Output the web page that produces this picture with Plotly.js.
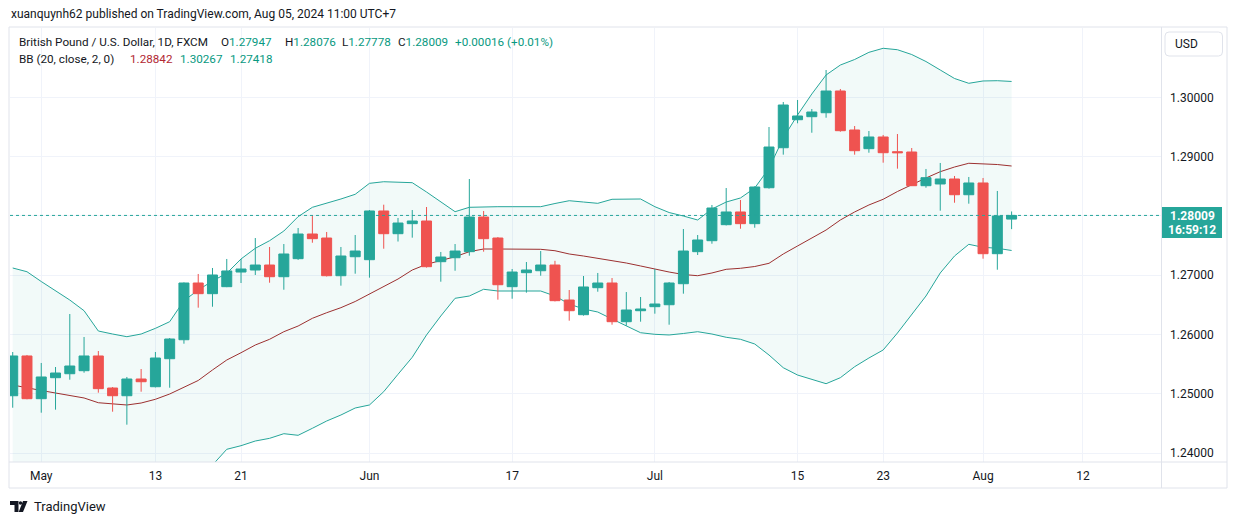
<!DOCTYPE html>
<html><head><meta charset="utf-8">
<script src="https://cdn.plot.ly/plotly-3.0.1.min.js"></script>
<style>html,body{margin:0;padding:0;background:#fff;}#chart{width:1237px;height:524px;}</style>
</head><body><div id="chart"></div>
<script>
const dates = ['2024-04-29','2024-04-30','2024-05-01','2024-05-02','2024-05-03','2024-05-06','2024-05-07','2024-05-08','2024-05-09','2024-05-10',
'2024-05-13','2024-05-14','2024-05-15','2024-05-16','2024-05-17','2024-05-20','2024-05-21','2024-05-22','2024-05-23','2024-05-24',
'2024-05-27','2024-05-28','2024-05-29','2024-05-30','2024-05-31','2024-06-03','2024-06-04','2024-06-05','2024-06-06','2024-06-07',
'2024-06-10','2024-06-11','2024-06-12','2024-06-13','2024-06-14','2024-06-17','2024-06-18','2024-06-19','2024-06-20','2024-06-21',
'2024-06-24','2024-06-25','2024-06-26','2024-06-27','2024-06-28','2024-07-01','2024-07-02','2024-07-03','2024-07-04','2024-07-05',
'2024-07-08','2024-07-09','2024-07-10','2024-07-11','2024-07-12','2024-07-15','2024-07-16','2024-07-17','2024-07-18','2024-07-19',
'2024-07-22','2024-07-23','2024-07-24','2024-07-25','2024-07-26','2024-07-29','2024-07-30','2024-07-31','2024-08-01','2024-08-02','2024-08-05'];

const openP = [1.24970,1.25640,1.24920,1.25274,1.25341,1.25392,1.25640,1.25100,1.24970,1.25252,
1.25122,1.25594,1.25914,1.26870,1.26690,1.26808,1.27055,1.27089,1.27173,1.26976,
1.27280,1.27696,1.27628,1.26993,1.27313,1.27263,1.28084,1.27701,1.27870,1.27915,
1.27229,1.27296,1.27398,1.27982,1.27628,1.26808,1.27044,1.27077,1.27173,1.26583,
1.26336,1.26791,1.26870,1.26218,1.26403,1.26471,1.26504,1.26858,1.27398,1.27583,
1.27853,1.28067,1.27870,1.28476,1.29150,1.29622,1.29673,1.29740,1.30106,1.29449,
1.29134,1.29331,1.29083,1.29078,1.28510,1.28539,1.28623,1.28358,1.28556,1.27364,1.27947];
const highP = [1.25707,1.25657,1.25522,1.25454,1.26347,1.25960,1.25724,1.25117,1.25286,1.25420,
1.25707,1.25943,1.26880,1.27022,1.27123,1.27275,1.27275,1.27628,1.27477,1.27527,
1.27797,1.28016,1.27730,1.27477,1.27679,1.28100,1.28190,1.27966,1.28100,1.28151,
1.27393,1.27527,1.28623,1.28084,1.27645,1.27106,1.27224,1.27409,1.27244,1.26752,
1.26988,1.27039,1.26954,1.26718,1.26634,1.27106,1.26887,1.27780,1.27679,1.28185,
1.28471,1.28269,1.28500,1.29499,1.29921,1.29955,1.29803,1.30460,1.30140,1.29516,
1.29432,1.29365,1.29381,1.29145,1.28792,1.28893,1.28674,1.28657,1.28640,1.28421,1.28076];
const lowP = [1.24768,1.24910,1.24684,1.24735,1.25240,1.25358,1.25021,1.24701,1.24482,1.25038,
1.25110,1.25105,1.25847,1.26454,1.26470,1.26800,1.26870,1.27005,1.26875,1.26757,
1.27260,1.27549,1.26980,1.26825,1.27027,1.26960,1.27448,1.27569,1.27634,1.27130,
1.26892,1.27077,1.27330,1.27398,1.26589,1.26605,1.26707,1.26993,1.26560,1.26235,
1.26320,1.26723,1.26167,1.26150,1.26218,1.26353,1.26167,1.26690,1.27342,1.27532,
1.27840,1.27785,1.27802,1.28460,1.29033,1.29562,1.29403,1.29656,1.29420,1.29033,
1.29066,1.28898,1.28797,1.28505,1.28476,1.28089,1.28223,1.28207,1.27280,1.27094,1.27778];
const closeP = [1.25640,1.24920,1.25286,1.25353,1.25471,1.25640,1.25089,1.24970,1.25252,1.25206,
1.25606,1.25926,1.26870,1.26690,1.27005,1.27073,1.27106,1.27173,1.26976,1.27359,
1.27696,1.27617,1.26993,1.27325,1.27409,1.28084,1.27701,1.27881,1.27915,1.27145,
1.27308,1.27409,1.27982,1.27617,1.26841,1.27055,1.27089,1.27173,1.26572,1.26403,
1.26803,1.26870,1.26218,1.26415,1.26432,1.26516,1.26870,1.27409,1.27595,1.28134,
1.28067,1.27870,1.28488,1.29162,1.29870,1.29685,1.29752,1.30106,1.29437,1.29100,
1.29331,1.29066,1.29066,1.28510,1.28645,1.28623,1.28358,1.28556,1.27364,1.27999,1.28009];

const bbUpper = [1.27123,1.27060,1.26895,1.26735,1.26583,1.26403,1.26061,1.26010,1.25965,1.26010,
1.26106,1.26218,1.26572,1.26752,1.26904,1.27034,1.27275,1.27455,1.27583,1.27746,
1.27988,1.28146,1.28213,1.28286,1.28365,1.28550,1.28577,1.28572,1.28561,1.28404,
1.28235,1.28072,1.28146,1.28156,1.28156,1.28156,1.28156,1.28156,1.28210,1.28257,
1.28235,1.28213,1.28281,1.28286,1.28286,1.28156,1.28058,1.27999,1.27932,1.28117,
1.28235,1.28303,1.28471,1.28803,1.29314,1.29702,1.30056,1.30376,1.30544,1.30637,
1.30758,1.30826,1.30802,1.30721,1.30603,1.30460,1.30317,1.30236,1.30275,1.30280,1.30267];
const bbBasis = [1.25151,1.25100,1.25058,1.25016,1.24974,1.24932,1.24852,1.24831,1.24814,1.24847,
1.24910,1.24999,1.25109,1.25227,1.25404,1.25572,1.25695,1.25825,1.25921,1.26049,
1.26145,1.26275,1.26369,1.26454,1.26558,1.26685,1.26811,1.26937,1.27089,1.27185,
1.27249,1.27313,1.27398,1.27443,1.27443,1.27443,1.27443,1.27438,1.27414,1.27359,
1.27325,1.27286,1.27258,1.27207,1.27157,1.27101,1.27055,1.27013,1.26993,1.27039,
1.27101,1.27118,1.27148,1.27202,1.27359,1.27494,1.27623,1.27763,1.27932,1.28067,
1.28185,1.28281,1.28412,1.28530,1.28640,1.28746,1.28825,1.28888,1.28876,1.28867,1.28842];
const bbLower = [1.23179,1.23140,1.23221,1.23297,1.23364,1.23460,1.23644,1.23651,1.23663,1.23684,
1.23713,1.23780,1.23646,1.23701,1.23802,1.24067,1.24128,1.24207,1.24252,1.24330,
1.24303,1.24421,1.24544,1.24645,1.24763,1.24814,1.25038,1.25331,1.25618,1.25994,
1.26314,1.26612,1.26651,1.26764,1.26735,1.26735,1.26735,1.26735,1.26651,1.26516,
1.26432,1.26381,1.26263,1.26145,1.26032,1.26005,1.25994,1.26019,1.26049,1.26010,
1.25955,1.25921,1.25842,1.25656,1.25442,1.25319,1.25244,1.25173,1.25274,1.25459,
1.25606,1.25741,1.26027,1.26331,1.26651,1.27039,1.27325,1.27522,1.27472,1.27455,1.27418];

const tickDates = ['2024-05-01','2024-05-13','2024-05-21','2024-06-03','2024-06-17','2024-07-01','2024-07-15','2024-07-23','2024-08-01','2024-08-12'];
const tickLabels = ['May','13','21','Jun','17','Jul','15','23','Aug','12'];
const priceTicks = [1.24,1.25,1.26,1.27,1.28,1.29,1.30];

const lastPrice = 1.28009;
const UP = '#26a69a', DOWN = '#ef5350', TXT = '#131722', BORDER = '#e0e3eb', GRID = '#f0f3fa';

// trading-day index (weekdays) relative to first bar
function tIndex(ds){
  const d0 = new Date(dates[0]+'T00:00:00Z'), d = new Date(ds+'T00:00:00Z');
  let n = 0, cur = new Date(d0);
  while(cur < d){ cur.setUTCDate(cur.getUTCDate()+1); const w = cur.getUTCDay(); if(w!==0 && w!==6) n++; }
  return n;
}
const xIdx = dates.map(tIndex);
const tickVals = tickDates.map(tIndex);

// pixel -> paper helpers
const W = 1237, H = 524, L = 10, R = 76, T = 28, B = 62;
const PW = W - L - R, PH = H - T - B;
const px = v => (v - L) / PW;
const py = v => (H - B - v) / PH;

const traces = [
  {x:xIdx, y:bbUpper, type:'scatter', mode:'lines', line:{color:UP, width:1}, hoverinfo:'skip', showlegend:false},
  {x:xIdx, y:bbLower, type:'scatter', mode:'lines', line:{color:UP, width:1}, fill:'tonexty', fillcolor:'rgba(38,166,154,0.06)', hoverinfo:'skip', showlegend:false},
  {x:xIdx, y:bbBasis, type:'scatter', mode:'lines', line:{color:'#9c3030', width:1}, hoverinfo:'skip', showlegend:false},
  {x:xIdx, open:openP, high:highP, low:lowP, close:closeP, type:'candlestick', yaxis:'y2',
   increasing:{line:{color:UP, width:1}, fillcolor:UP},
   decreasing:{line:{color:DOWN, width:1}, fillcolor:DOWN},
   whiskerwidth:0, showlegend:false}
];

function rr(x0,y0,x1,y1,r){
  return `M${px(x0+r)},${py(y0)} L${px(x1-r)},${py(y0)} Q${px(x1)},${py(y0)} ${px(x1)},${py(y0+r)} L${px(x1)},${py(y1-r)} Q${px(x1)},${py(y1)} ${px(x1-r)},${py(y1)} L${px(x0+r)},${py(y1)} Q${px(x0)},${py(y1)} ${px(x0)},${py(y1-r)} L${px(x0)},${py(y0+r)} Q${px(x0)},${py(y0)} ${px(x0+r)},${py(y0)} Z`;
}
function poly(pts){ return 'M' + pts.map(p => px(p[0])+','+py(p[1])).join(' L') + ' Z'; }

const shapes = [
  {type:'rect', xref:'paper', yref:'paper', x0:px(9), x1:px(1227), y0:py(488), y1:py(27), line:{color:BORDER, width:1}, layer:'below'},
  {type:'line', xref:'paper', yref:'paper', x0:px(1161.5), x1:px(1161.5), y0:py(488), y1:py(27), line:{color:BORDER, width:1}},
  {type:'line', xref:'paper', yref:'paper', x0:px(9), x1:px(1227), y0:py(462), y1:py(462), line:{color:BORDER, width:1}},
  {type:'line', xref:'paper', yref:'y', x0:0, x1:1, y0:lastPrice, y1:lastPrice, line:{color:UP, width:1, dash:'dot'}},
  {type:'path', xref:'paper', yref:'paper', path:rr(1165,32,1222.5,56,4), line:{color:BORDER, width:1}, fillcolor:'#fff'},
  {type:'rect', xref:'paper', yref:'paper', x0:px(1162), x1:px(1222), y0:py(238), y1:py(207), line:{width:0}, fillcolor:UP},
  // TradingView logo
  {type:'path', xref:'paper', yref:'paper', path:poly([[10,501],[18.5,501],[18.5,512],[14.5,512],[14.5,505],[10,505]]), fillcolor:TXT, line:{width:0}},
  {type:'circle', xref:'paper', yref:'paper', x0:px(18.8), x1:px(22.2), y0:py(504.7), y1:py(501.3), fillcolor:TXT, line:{width:0}},
  {type:'path', xref:'paper', yref:'paper', path:poly([[23,501],[27.5,501],[23,512],[18.7,512]]), fillcolor:TXT, line:{width:0}}
];

const F = 'Roboto, "Liberation Sans", sans-serif';
function ann(text, x, y, size, color, opts){
  return Object.assign({text:text, xref:'paper', yref:'paper', x:px(x), y:py(y), xanchor:'left', yanchor:'middle',
    showarrow:false, font:{family:F, size:size, color:color}}, opts||{});
}
const G = '#089981';
const annotations = [
  ann('xuanquynh62 published on TradingView.com, Aug 05, 2024 11:00 UTC+7', 9, 14.5, 12, TXT),
  ann('British Pound / U.S. Dollar, 1D, FXCM', 17, 42, 11.7, TXT),
  ann('O<span style="color:'+G+'">1.27947</span>', 219, 42, 11.7, TXT),
  ann('H<span style="color:'+G+'">1.28076</span>', 283, 42, 11.7, TXT),
  ann('L<span style="color:'+G+'">1.27778</span>', 340, 42, 11.7, TXT),
  ann('C<span style="color:'+G+'">1.28009</span>', 396, 42, 11.7, TXT),
  ann('+0.00016 (+0.01%)', 453, 42, 11.7, G),
  ann('BB (20, close, 2, 0)', 17, 59, 11.7, TXT),
  ann('1.28842', 128, 59, 11.7, '#b22833'),
  ann('1.30267', 178, 59, 11.7, G),
  ann('1.27418', 228, 59, 11.7, G),
  ann('USD', 1173, 44, 12, TXT),
  ann('<b>1.28009</b>', 1192, 215.5, 12, '#ffffff', {xanchor:'center'}),
  ann('<b>16:59:12</b>', 1192, 230, 12, '#ffffff', {xanchor:'center'}),
  ann('TradingView', 32, 506.5, 13, TXT)
];

const yRange = [1.30 - (462 - 97.3) / 5933, 1.30 + (97.3 - 28) / 5933];

const layout = {
  width:W, height:H, margin:{l:L, r:R, t:T, b:B, pad:0},
  paper_bgcolor:'#ffffff', plot_bgcolor:'#ffffff',
  showlegend:false, boxgap:0.3, boxgroupgap:0,
  font:{family:F, size:12, color:TXT},
  xaxis:{range:[-0.19, 80.47], tickvals:tickVals, ticktext:tickLabels, showgrid:true, gridcolor:GRID, gridwidth:1,
    zeroline:false, showline:false, ticks:'', ticklabelstandoff:5, tickfont:{family:F, size:12, color:TXT}, rangeslider:{visible:false}, fixedrange:true},
  yaxis:{range:yRange, side:'right', tickvals:priceTicks, ticktext:priceTicks.map(v=>v.toFixed(5)), showgrid:true, gridcolor:GRID,
    zeroline:false, showline:false, ticks:'', ticklabelstandoff:8, tickfont:{family:F, size:12, color:TXT}, fixedrange:true},
  yaxis2:{range:yRange, overlaying:'y', side:'right', showgrid:false, zeroline:false, showticklabels:false, ticks:'', fixedrange:true},
  shapes:shapes, annotations:annotations
};

Plotly.newPlot('chart', traces, layout, {displayModeBar:false, staticPlot:true});
</script></body></html>
